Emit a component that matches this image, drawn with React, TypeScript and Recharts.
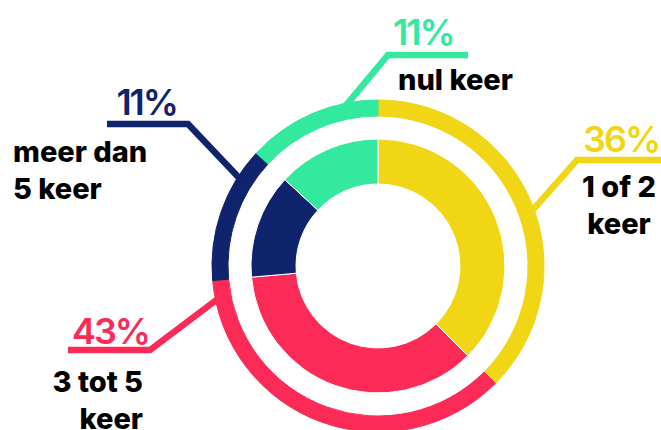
import { Cell, Pie, PieChart } from "recharts";

// categories, in clockwise order from 12 o'clock
const categories = ["1 of 2 keer", "3 tot 5 keer", "meer dan 5 keer", "nul keer"];
// share of each ring slice as drawn (percent of circle)
const sliceShares = [37.5, 36.1, 13.3, 13.1];
// printed percentage labels
const percentLabels = ["36%", "43%", "11%", "11%"];
// label text split into lines
const labelLines = [["1 of 2", "keer"], ["3 tot 5", "keer"], ["meer dan", "5 keer"], ["nul keer"]];
const colors = ["#F0D614", "#FB2A57", "#10236D", "#32E99D"];

const data = categories.map((name, i) => ({ name, value: sliceShares[i] }));

// annotation layout: where the leader touches the ring (deg clockwise from top),
// the elbow, the end of the underline and text placement
const callouts = [
  { angle: 71, elbow: [577, 160], end: 661, pct: [583, 152, "start"], text: [619, 197, "middle"] },
  { angle: 259, elbow: [150, 350], end: 68, pct: [149, 344, "end"], text: [143, 392, "end"] },
  { angle: 302, elbow: [188, 124], end: 107, pct: [177, 115, "end"], text: [13, 162, "start"] },
  { angle: 347, elbow: [388, 55], end: 468, pct: [393, 45, "start"], text: [398, 90, "start"] },
] as const;

const FONT = "Inter, 'Noto Sans', sans-serif";

const renderCallout = (props: any) => {
  const { cx, cy, outerRadius, index } = props;
  const c = callouts[index];
  const a = (c.angle * Math.PI) / 180;
  const r = outerRadius - 6;
  const sx = cx + r * Math.sin(a);
  const sy = cy - r * Math.cos(a);
  const color = colors[index];
  return (
    <g key={`callout-${index}`}>
      <polyline
        points={`${sx},${sy} ${c.elbow[0]},${c.elbow[1]} ${c.end},${c.elbow[1]}`}
        fill="none"
        stroke={color}
        strokeWidth={6.5}
        strokeLinejoin="miter"
      />
      <text
        x={c.pct[0]}
        y={c.pct[1]}
        textAnchor={c.pct[2]}
        fill={color}
        fontFamily={FONT}
        fontSize={36}
        fontWeight={600}
        letterSpacing={-2}
      >
        {percentLabels[index]}
      </text>
      {labelLines[index].map((line, j) => (
        <text
          key={j}
          x={c.text[0]}
          y={c.text[1] + j * 36.5}
          textAnchor={c.text[2]}
          fill="#000"
          fontFamily={FONT}
          fontSize={29}
          fontWeight={800}
        >
          {line}
        </text>
      ))}
    </g>
  );
};

export default function App() {
  return (
    <div style={{ position: "absolute", left: 0, top: 0, width: 661, height: 430, background: "#fff" }}>
      <PieChart width={661} height={430} margin={{ top: 0, right: 0, bottom: 0, left: 0 }}>
        <Pie
          data={data}
          dataKey="value"
          cx={378}
          cy={266}
          innerRadius={82}
          outerRadius={127}
          startAngle={90}
          endAngle={-270}
          stroke="#fff"
          strokeWidth={1}
          isAnimationActive={false}
        >
          {data.map((d, i) => (
            <Cell key={d.name} fill={colors[i]} />
          ))}
        </Pie>
        <Pie
          data={data}
          dataKey="value"
          cx={378}
          cy={266}
          innerRadius={150}
          outerRadius={166}
          startAngle={90}
          endAngle={-270}
          label={renderCallout}
          labelLine={false}
          isAnimationActive={false}
        >
          {data.map((d, i) => (
            <Cell key={d.name} fill={colors[i]} stroke={colors[i]} />
          ))}
        </Pie>
      </PieChart>
    </div>
  );
}
